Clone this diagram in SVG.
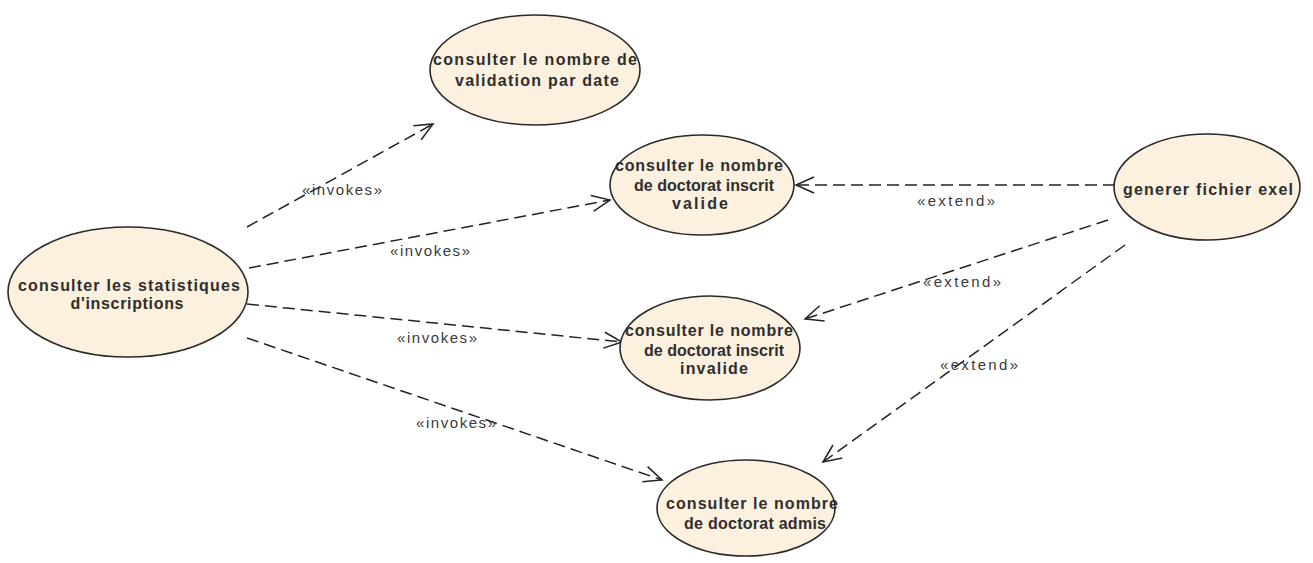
<svg xmlns="http://www.w3.org/2000/svg" width="1313" height="563" viewBox="0 0 1313 563">
<style>
.uc{fill:#FCF0DF;stroke:#2a2a2a;stroke-width:1.6}
.nt{font-family:"Liberation Sans",Arial,sans-serif;font-weight:bold;font-size:16px;fill:#2e2e2e;text-anchor:middle}
.lb{font-family:"Liberation Sans",Arial,sans-serif;font-size:15px;fill:#3a3a3a;text-anchor:middle}
.cn{fill:none;stroke:#222;stroke-width:1.5;stroke-dasharray:12 6}
</style>
<defs>
<marker id="open" markerWidth="22" markerHeight="22" refX="19" refY="10" orient="auto" markerUnits="userSpaceOnUse">
<path d="M1,2 L19,10 L1,18" fill="none" stroke="#222" stroke-width="1.5" stroke-dasharray="none"/>
</marker>
</defs>
<rect width="1313" height="563" fill="#fff"/>
<g id="connectors">
<line class="cn" x1="247" y1="227" x2="433" y2="124" marker-end="url(#open)"/>
<line class="cn" x1="249" y1="268" x2="610" y2="200" marker-end="url(#open)"/>
<line class="cn" x1="247" y1="304" x2="622" y2="342" marker-end="url(#open)"/>
<line class="cn" x1="247" y1="338" x2="662" y2="480" marker-end="url(#open)"/>
<line class="cn" x1="1115" y1="185" x2="796" y2="185" marker-end="url(#open)"/>
<line class="cn" x1="1108" y1="220" x2="805" y2="319" marker-end="url(#open)"/>
<line class="cn" x1="1125" y1="245" x2="823" y2="462" marker-end="url(#open)"/>
<text class="lb" x="342" y="195" textLength="80" lengthAdjust="spacing">«invokes»</text>
<text class="lb" x="430" y="256" textLength="80" lengthAdjust="spacing">«invokes»</text>
<text class="lb" x="437" y="343" textLength="80" lengthAdjust="spacing">«invokes»</text>
<text class="lb" x="456" y="428" textLength="80" lengthAdjust="spacing">«invokes»</text>
<text class="lb" x="956" y="206" textLength="78" lengthAdjust="spacing">«extend»</text>
<text class="lb" x="962" y="287" textLength="78" lengthAdjust="spacing">«extend»</text>
<text class="lb" x="979" y="370" textLength="78" lengthAdjust="spacing">«extend»</text>
</g>
<g id="uc1">
<ellipse class="uc" cx="535" cy="70" rx="105" ry="55"/>
<text class="nt" x="535" y="65" textLength="204" lengthAdjust="spacing">consulter le nombre de</text>
<text class="nt" x="537" y="86" textLength="164" lengthAdjust="spacing">validation par date</text>
</g>
<g id="uc2">
<ellipse class="uc" cx="702" cy="185" rx="92" ry="50"/>
<text class="nt" x="699" y="171" textLength="168" lengthAdjust="spacing">consulter le nombre</text>
<text class="nt" x="704" y="191" textLength="140" lengthAdjust="spacing">de doctorat inscrit</text>
<text class="nt" x="700" y="209" textLength="56" lengthAdjust="spacing">valide</text>
</g>
<g id="uc3">
<ellipse class="uc" cx="128" cy="292" rx="120" ry="65"/>
<text class="nt" x="129" y="291" textLength="222" lengthAdjust="spacing">consulter les statistiques</text>
<text class="nt" x="127" y="309" textLength="113" lengthAdjust="spacing">d'inscriptions</text>
</g>
<g id="uc4">
<ellipse class="uc" cx="1207" cy="187" rx="93" ry="53"/>
<text class="nt" x="1208" y="195" textLength="170" lengthAdjust="spacing">generer fichier exel</text>
</g>
<g id="uc5">
<ellipse class="uc" cx="710" cy="348" rx="90" ry="52"/>
<text class="nt" x="709" y="336" textLength="168" lengthAdjust="spacing">consulter le nombre</text>
<text class="nt" x="714" y="356" textLength="140" lengthAdjust="spacing">de doctorat inscrit</text>
<text class="nt" x="714" y="374" textLength="68" lengthAdjust="spacing">invalide</text>
</g>
<g id="uc6">
<ellipse class="uc" cx="746" cy="508" rx="89" ry="48"/>
<text class="nt" x="752" y="509" textLength="172" lengthAdjust="spacing">consulter le nombre</text>
<text class="nt" x="755" y="529" textLength="142" lengthAdjust="spacing">de doctorat admis</text>
</g>
</svg>
